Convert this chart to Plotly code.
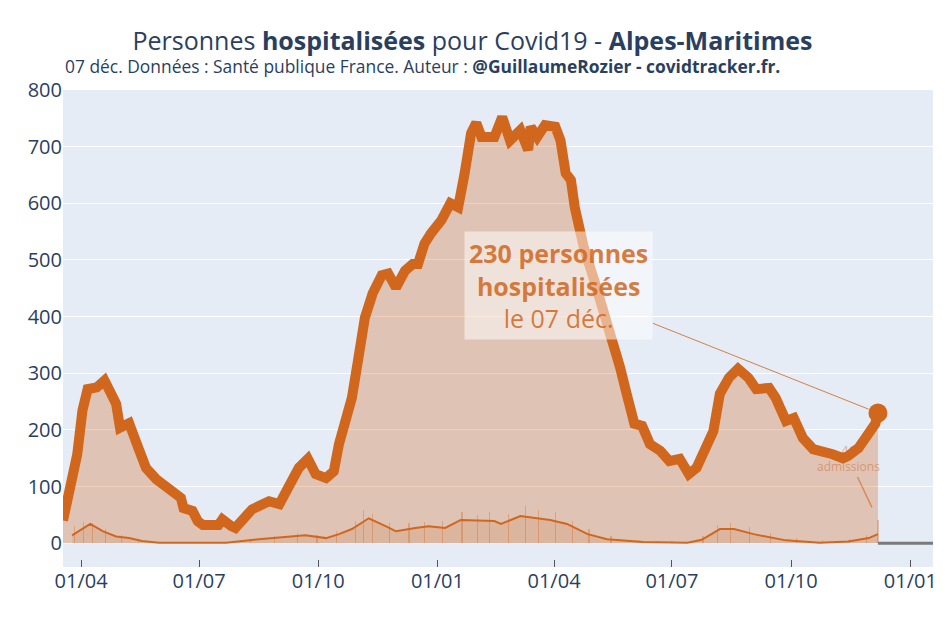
import plotly.graph_objects as go

# --- Personnes hospitalisées (lecture du graphique) ---
hosp_dates = [
    "2020-03-18", "2020-03-23", "2020-03-29", "2020-04-02", "2020-04-06", "2020-04-13",
    "2020-04-19", "2020-04-23", "2020-04-28", "2020-05-01", "2020-05-06", "2020-05-08",
    "2020-05-14", "2020-05-21", "2020-05-29", "2020-06-08", "2020-06-17", "2020-06-19",
    "2020-06-26", "2020-06-30", "2020-07-04", "2020-07-16", "2020-07-19", "2020-07-26",
    "2020-07-29", "2020-08-11", "2020-08-24", "2020-09-01", "2020-09-08", "2020-09-16",
    "2020-09-23", "2020-09-29", "2020-10-07", "2020-10-13", "2020-10-17", "2020-10-23",
    "2020-10-27", "2020-11-01", "2020-11-06", "2020-11-12", "2020-11-19", "2020-11-24",
    "2020-11-30", "2020-12-07", "2020-12-13", "2020-12-17", "2020-12-22", "2020-12-27",
    "2021-01-04", "2021-01-11", "2021-01-17", "2021-01-22", "2021-01-27", "2021-01-31",
    "2021-02-04", "2021-02-14", "2021-02-20", "2021-02-26", "2021-03-06", "2021-03-12",
    "2021-03-14", "2021-03-19", "2021-03-25", "2021-04-02", "2021-04-06", "2021-04-10",
    "2021-04-14", "2021-04-17", "2021-04-24", "2021-05-02", "2021-05-10", "2021-05-17",
    "2021-05-22", "2021-05-27", "2021-06-02", "2021-06-08", "2021-06-14", "2021-06-22",
    "2021-06-29", "2021-07-07", "2021-07-14", "2021-07-20", "2021-07-26", "2021-08-02",
    "2021-08-07", "2021-08-14", "2021-08-21", "2021-08-29", "2021-09-04", "2021-09-14",
    "2021-09-19", "2021-09-27", "2021-10-03", "2021-10-10", "2021-10-18", "2021-10-26",
    "2021-11-02", "2021-11-10", "2021-11-14", "2021-11-22", "2021-11-30", "2021-12-05",
    "2021-12-07",
]
hosp_values = [
    40, 87, 157, 234, 272, 275,
    287, 269, 246, 204, 207, 212,
    175, 133, 113, 96, 80, 62,
    57, 39, 32, 32, 42, 30,
    27, 60, 74, 69, 96, 133,
    149, 122, 115, 127, 175, 221,
    257, 327, 398, 441, 473, 476,
    451, 481, 493, 493, 529, 547,
    570, 600, 593, 653, 724, 742,
    717, 717, 752, 711, 729, 694,
    735, 717, 738, 735, 711, 653,
    641, 593, 522, 464, 405, 345,
    310, 264, 211, 207, 175, 163,
    145, 149, 122, 133, 163, 198,
    264, 292, 308, 292, 272, 274,
    257, 216, 221, 186, 166, 163,
    157, 150, 154, 168, 193, 211,
    230,
]

# --- Admissions (moyenne 7 jours) ---
adm_avg_dates = [
    "2020-03-25", "2020-04-08", "2020-04-18", "2020-04-28", "2020-05-08", "2020-05-18",
    "2020-05-31", "2020-06-26", "2020-07-22", "2020-08-16", "2020-09-10", "2020-09-21",
    "2020-10-07", "2020-10-17", "2020-10-27", "2020-11-09", "2020-11-22", "2020-11-30",
    "2020-12-15", "2020-12-25", "2021-01-07", "2021-01-19", "2021-02-14", "2021-02-19",
    "2021-03-06", "2021-03-29", "2021-04-11", "2021-04-27", "2021-05-12", "2021-06-09",
    "2021-07-13", "2021-07-24", "2021-08-07", "2021-08-18", "2021-09-02", "2021-09-27",
    "2021-10-23", "2021-11-14", "2021-11-30", "2021-12-07",
]
adm_avg_values = [
    14, 34, 21, 12, 9, 4,
    1, 0.5, 1, 7, 11, 14,
    9, 16, 25, 44, 30, 21,
    27, 30, 27, 41, 39, 34,
    48, 41, 34, 16, 7, 2,
    1, 6, 25, 25, 16, 5,
    1, 3, 9, 16,
]

# --- Admissions quotidiennes (pics visibles) ---
adm_day_dates = [
    "2020-03-27", "2020-04-03", "2020-04-10", "2020-04-20", "2020-05-02", "2020-05-15",
    "2020-06-10", "2020-07-10", "2020-08-10", "2020-08-28", "2020-09-15", "2020-09-30",
    "2020-10-15", "2020-10-30", "2020-11-05", "2020-11-12", "2020-11-25", "2020-12-10",
    "2020-12-22", "2021-01-05", "2021-01-20", "2021-02-01", "2021-02-10", "2021-02-25",
    "2021-03-10", "2021-03-20", "2021-04-02", "2021-04-15", "2021-04-28", "2021-05-15",
    "2021-06-05", "2021-07-01", "2021-07-25", "2021-08-05", "2021-08-15", "2021-08-30",
    "2021-09-15", "2021-10-05", "2021-10-25", "2021-11-15", "2021-11-28", "2021-12-07",
]
adm_day_values = [
    30, 38, 36, 25, 15, 8,
    3, 3, 8, 12, 18, 15,
    22, 40, 58, 52, 35, 35,
    38, 40, 55, 50, 55, 52,
    65, 58, 55, 40, 25, 12,
    6, 4, 12, 32, 35, 28,
    18, 10, 5, 8, 15, 41,
]

X_RANGE = ["2020-03-18", "2022-01-18 12:00"]
Y_RANGE = [-42, 800]

last_date = hosp_dates[-1]
last_hosp = hosp_values[-1]
last_adm = adm_day_values[-1]

ORANGE = "rgb(209,102,29)"
TXT = "#2a3f5f"

fig = go.Figure()

# filled area
fig.add_trace(go.Scatter(
    x=hosp_dates, y=hosp_values, mode="lines", fill="tozeroy",
    fillcolor="rgba(209,102,29,0.3)", line=dict(width=0, color=ORANGE),
    hoverinfo="skip", showlegend=False))

# admissions bars
fig.add_trace(go.Bar(
    x=adm_day_dates, y=adm_day_values, width=86400000 * 0.9,
    marker=dict(color="rgba(209,102,29,0.35)", line=dict(width=0)),
    showlegend=False))

# admissions rolling average
fig.add_trace(go.Scatter(
    x=adm_avg_dates, y=adm_avg_values, mode="lines", fill="tozeroy",
    fillcolor="rgba(209,102,29,0.15)",
    line=dict(width=2, color=ORANGE), showlegend=False))

# hospitalisations line
fig.add_trace(go.Scatter(
    x=hosp_dates, y=hosp_values, mode="lines",
    line=dict(width=10, color=ORANGE), showlegend=False))

# last point marker
fig.add_trace(go.Scatter(
    x=[last_date], y=[last_hosp], mode="markers",
    marker=dict(size=19, color=ORANGE), showlegend=False))

# grey baseline after the last data point
fig.add_shape(type="line", xref="x", yref="y", layer="above",
              x0=last_date, x1=X_RANGE[1], y0=0, y1=0,
              line=dict(color="#7a7a7a", width=3))

fig.add_annotation(
    x=last_date, y=last_hosp, xref="x", yref="y",
    text=f"<b>{last_hosp} personnes</b><br><b>hospitalisées</b><br>le 07 déc.",
    font=dict(family="Open Sans", size=25, color="rgba(209,102,29,0.85)"),
    bgcolor="rgba(255,255,255,0.5)", borderpad=4,
    showarrow=True, arrowhead=0, arrowwidth=1, arrowcolor="rgba(209,102,29,0.8)",
    ax=-319, ay=-127, standoff=10)

fig.add_annotation(
    x=last_date, y=last_adm, xref="x", yref="y",
    text=f"{last_adm}<br>admissions",
    font=dict(family="Open Sans", size=12, color="rgba(209,102,29,0.5)"),
    showarrow=True, arrowhead=0, arrowwidth=1.5, arrowcolor="rgba(209,102,29,0.6)",
    ax=-29, ay=-61, standoff=14)

fig.add_annotation(
    x=0, y=1, xref="paper", yref="paper", xanchor="left", yanchor="bottom",
    yshift=10, xshift=0,
    text="07 déc. Données : Santé publique France. Auteur : <b>@GuillaumeRozier - covidtracker.fr.</b>",
    font=dict(family="Open Sans", size=17.4, color=TXT), showarrow=False)

fig.update_layout(
    template="plotly",
    width=945, height=630,
    margin=dict(l=63, r=8, t=90, b=63),
    title=dict(
        text="Personnes <b>hospitalisées</b> pour Covid19 - <b>Alpes-Maritimes</b>",
        x=0.5, xanchor="center", y=0.935, yanchor="middle",
        font=dict(family="Open Sans", size=25, color=TXT)),
    font=dict(family="Open Sans", color=TXT),
    plot_bgcolor="#E5ECF6", paper_bgcolor="white",
    bargap=0,
    showlegend=False,
)
fig.update_xaxes(
    range=X_RANGE,
    tickformat="%d/%m", dtick="M3", tick0="2020-01-01",
    ticks="inside", ticklen=7, tickcolor="#555",
    tickfont=dict(size=20, color=TXT), showgrid=False)
fig.update_yaxes(
    range=Y_RANGE, dtick=100,
    tickfont=dict(size=20, color=TXT),
    gridcolor="white", zeroline=False)

fig.write_html("out.html")
